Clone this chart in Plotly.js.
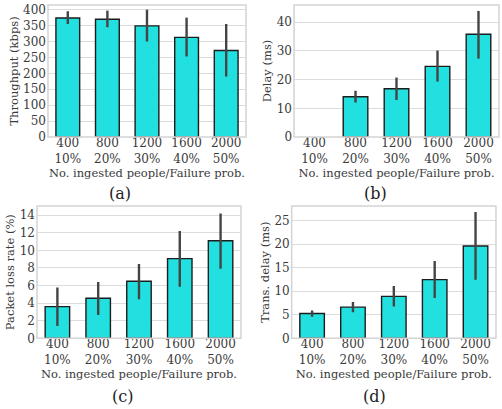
<!DOCTYPE html>
<html><head><meta charset="utf-8">
<script src="https://cdn.plot.ly/plotly-3.0.1.min.js"></script>
<style>html,body{margin:0;padding:0;background:#fff}#c{width:502px;height:409px}</style>
</head><body><div id="c"></div>
<script>
const categories = ["400<br>10%", "800<br>20%", "1200<br>30%", "1600<br>40%", "2000<br>50%"];

const throughput = [374, 370, 349, 313, 272];
const throughputLo = [355, 345, 300, 253, 190];
const throughputHi = [395, 397, 400, 375, 355];

const delay = [0, 14.0, 16.8, 24.6, 35.8];
const delayLo = [0, 12.0, 12.9, 19.3, 27.3];
const delayHi = [0, 16.1, 20.7, 30.1, 43.9];

const lossRate = [3.6, 4.55, 6.5, 9.07, 11.1];
const lossLo = [1.4, 2.66, 4.44, 5.88, 7.9];
const lossHi = [5.77, 6.4, 8.46, 12.2, 14.2];

const transDelay = [5.27, 6.62, 8.9, 12.46, 19.6];
const transLo = [4.6, 5.55, 6.77, 8.55, 12.46];
const transHi = [5.9, 7.7, 11.1, 16.4, 26.85];

const xTitle = "No. ingested people/Failure prob.";
const yTitles = ["Throughput (kbps)", "Delay (ms)", "Packet loss rate (%)", "Trans. delay (ms)"];
const panelLabels = ["(a)", "(b)", "(c)", "(d)"];

const FONT = "DejaVu Serif, serif";
const BAR = "#22e0e0";
const TXT = "#3a3a3a";

function mk(vals, lo, hi, i) {
  const ax = i === 0 ? "" : String(i + 1);
  return {
    type: "bar", x: categories, y: vals,
    xaxis: "x" + ax, yaxis: "y" + ax,
    width: 0.6,
    marker: {color: BAR, line: {color: "#1c1c1c", width: vals.map(v => v === 0 ? 0 : 1.4)}},
    error_y: {type: "data", symmetric: false,
      array: vals.map((v, k) => hi[k] - v),
      arrayminus: vals.map((v, k) => v - lo[k]),
      color: "#444", thickness: 2.4, width: 0},
    hoverinfo: "none", showlegend: false
  };
}

const data = [
  mk(throughput, throughputLo, throughputHi, 0),
  mk(delay, delayLo, delayHi, 1),
  mk(lossRate, lossLo, lossHi, 2),
  mk(transDelay, transLo, transHi, 3)
];

const xDomains = [[0.0956, 0.490], [0.5857, 0.994], [0.0737, 0.480], [0.581, 0.988]];
const yDomains = [[0.665, 0.988], [0.665, 0.988], [0.1728, 0.4963], [0.1728, 0.4963]];
const yRanges = [[0, 415], [0, 46], [0, 15.05], [0, 28.1]];
const yDtick = [50, 10, 2, 5];

const layout = {
  width: 502, height: 409,
  margin: {l: 0, r: 0, t: 0, b: 0},
  paper_bgcolor: "#fff", plot_bgcolor: "#fff",
  font: {family: FONT, color: TXT, size: 12},
  annotations: [],
  shapes: []
};

for (let i = 0; i < 4; i++) {
  const s = i === 0 ? "" : String(i + 1);
  layout["xaxis" + s] = {
    domain: xDomains[i], anchor: "y" + s,
    range: [-0.5, 4.5], showgrid: false, zeroline: false,
    tickfont: {family: FONT, size: 12, color: TXT},
    ticks: "", ticklabelstandoff: -3,
    title: {text: xTitle, font: {family: FONT, size: 11.5, color: TXT}, standoff: 0},
    showline: false, fixedrange: true
  };
  layout["yaxis" + s] = {
    domain: yDomains[i], anchor: "x" + s,
    range: yRanges[i], dtick: yDtick[i], tick0: 0,
    showgrid: true, gridcolor: "#dcdcdc", gridwidth: 1,
    zeroline: false,
    tickfont: {family: FONT, size: 12, color: TXT},
    ticks: "", ticklabelstandoff: 1,
    title: {text: yTitles[i], font: {family: FONT, size: 11.5, color: TXT}, standoff: 2},
    showline: false, fixedrange: true
  };
  layout.shapes.push({
    type: "rect", xref: "x" + s + " domain", yref: "y" + s + " domain",
    x0: 0, x1: 1, y0: 0, y1: 1, line: {color: "#d4d4d4", width: 1.5}, layer: "above"
  });
}

const labelPos = [[120, 193], [375, 193], [122, 396], [374, 396]];
for (let i = 0; i < 4; i++) {
  layout.annotations.push({
    text: panelLabels[i], xref: "paper", yref: "paper",
    x: labelPos[i][0] / 502, y: 1 - labelPos[i][1] / 409,
    xanchor: "center", yanchor: "middle", showarrow: false,
    font: {family: FONT, size: 16, color: "#222"}
  });
}

Plotly.newPlot("c", data, layout, {staticPlot: true, displayModeBar: false});
</script></body></html>
